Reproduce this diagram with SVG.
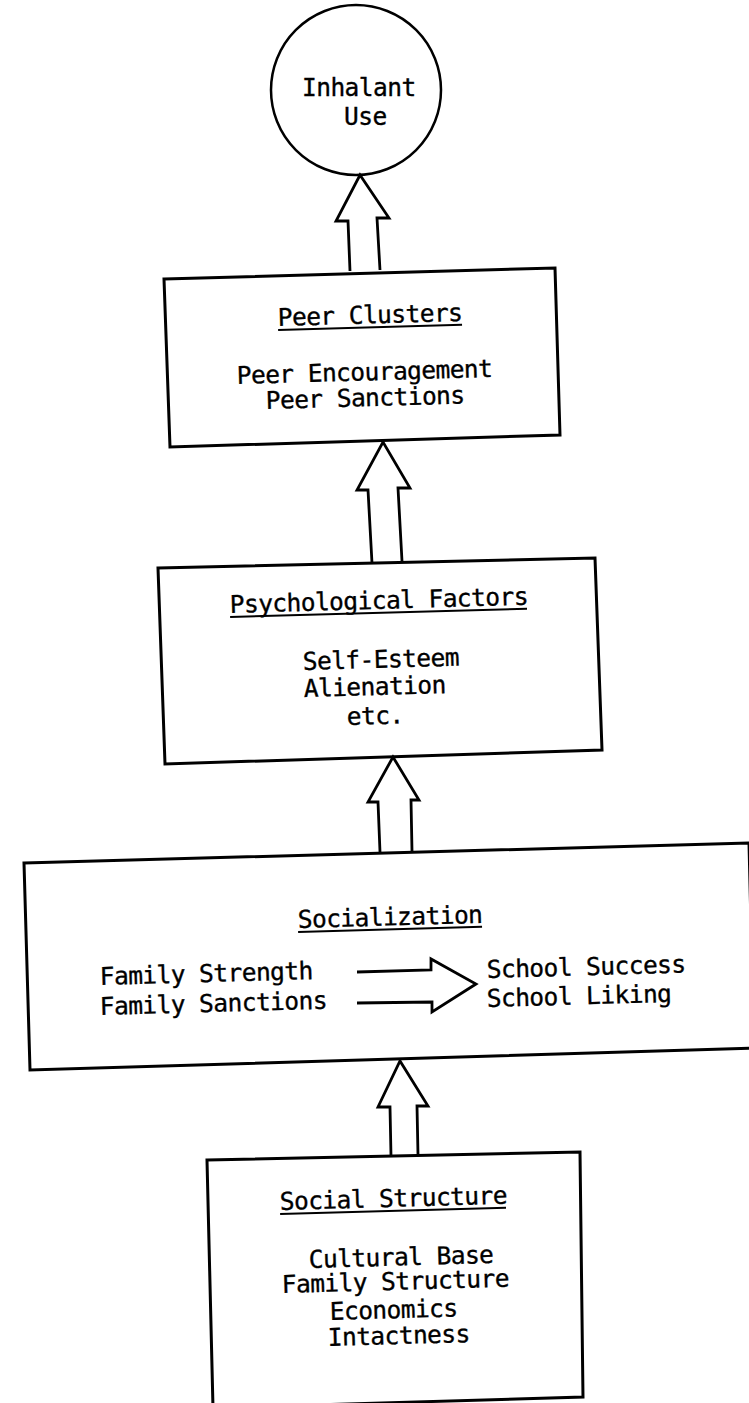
<svg xmlns="http://www.w3.org/2000/svg" width="749" height="1403" viewBox="0 0 749 1403">
<style>
.box{fill:none;stroke:#000;stroke-width:3;stroke-linejoin:miter}
.circ{fill:none;stroke:#000;stroke-width:2.5}
.arr{fill:none;stroke:#000;stroke-width:2.8;stroke-linejoin:miter}
.ul{stroke:#000;stroke-width:2}
text{font-family:"DejaVu Sans Mono","Liberation Mono",monospace;font-size:24.5px;letter-spacing:-0.55px;fill:#000;stroke:#000;stroke-width:0.35}
</style>
<rect x="0" y="0" width="749" height="1403" fill="#fff"/>

<g id="inhalant-use">
<circle class="circ" cx="356" cy="90" r="85"/>
<text x="302" y="96">Inhalant</text>
<text x="344" y="125">Use</text>
</g>

<g id="peer-clusters">
<polygon class="box" points="164,279 555,268 560,435 170,447"/>
<g transform="rotate(-1.6 278 326)">
<text x="278" y="326">Peer Clusters</text>
<line class="ul" x1="278" y1="330" x2="462" y2="330"/>
</g>
<text x="237" y="384" transform="rotate(-1.6 237 384)">Peer Encouragement</text>
<text x="266" y="409" transform="rotate(-1.6 266 409)">Peer Sanctions</text>
</g>

<g id="psychological-factors">
<polygon class="box" points="158,568 595,558 602,750 165,764"/>
<g transform="rotate(-1.6 230 613)">
<text x="230" y="613">Psychological Factors</text>
<line class="ul" x1="230" y1="617" x2="527" y2="617"/>
</g>
<text x="303" y="670" transform="rotate(-1.6 303 670)">Self-Esteem</text>
<text x="304" y="697" transform="rotate(-1.6 304 697)">Alienation</text>
<text x="347" y="725" transform="rotate(-1.6 347 725)">etc.</text>
</g>

<g id="socialization">
<polygon class="box" points="24,863 749,843 754,1048 30,1070"/>
<g transform="rotate(-1.6 298 928)">
<text x="298" y="928">Socialization</text>
<line class="ul" x1="298" y1="932" x2="482" y2="932"/>
</g>
<text x="100" y="985" transform="rotate(-1.6 100 985)">Family Strength</text>
<text x="100" y="1015" transform="rotate(-1.6 100 1015)">Family Sanctions</text>
<text x="487" y="978" transform="rotate(-1.6 487 978)">School Success</text>
<text x="487" y="1007" transform="rotate(-1.6 487 1007)">School Liking</text>
</g>

<g id="social-structure">
<polygon class="box" points="207,1160 580,1152 583,1397 213,1408"/>
<g transform="rotate(-1.6 280 1210)">
<text x="280" y="1210">Social Structure</text>
<line class="ul" x1="280" y1="1214" x2="506" y2="1214"/>
</g>
<text x="309" y="1268" transform="rotate(-1.6 309 1268)">Cultural Base</text>
<text x="282" y="1293" transform="rotate(-1.6 282 1293)">Family Structure</text>
<text x="330" y="1320" transform="rotate(-1.6 330 1320)">Economics</text>
<text x="328" y="1346" transform="rotate(-1.6 328 1346)">Intactness</text>
</g>

<g id="connectors">
<path class="arr" d="M350,271 L348,221 L336,221 L360,175 L389,218 L377,218 L380,270"/>
<path class="arr" d="M372,563 L368,490 L357,490 L383,442 L410,488 L398,488 L402,561"/>
<path class="arr" d="M380,852 L378,802 L368,802 L393,757 L419,800 L411,800 L412,851"/>
<path class="arr" d="M391,1156 L390,1107 L378,1107 L400,1061 L428,1106 L417,1106 L418,1155"/>
<path class="arr" d="M357,972 L431,970 L431,959 L476,984 L432,1012 L432,1002 L357,1003"/>
</g>
</svg>
